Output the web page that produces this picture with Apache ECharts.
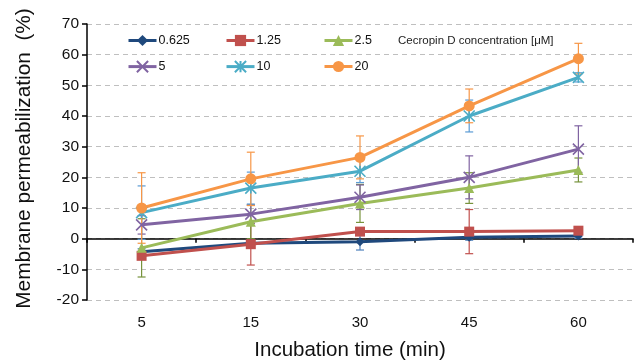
<!DOCTYPE html>
<html>
<head>
<meta charset="utf-8">
<script src="https://cdn.jsdelivr.net/npm/echarts@6/dist/echarts.min.js"></script>
<style>html,body{margin:0;padding:0;background:#fff}#c{width:638px;height:362px}</style>
</head>
<body>
<div id="c"></div>
<script>
const categories = ['5', '15', '30', '45', '60'];
const seriesNames = ['0.625', '1.25', '2.5', '5', '10', '20'];
const v0625 = [-4.3, -1.5, -1.0, 0.5, 0.9];
const e0625 = [1.0, 1.0, 2.7, 1.0, 0.8];
const v125 = [-5.6, -1.8, 2.3, 2.3, 2.6];
const e125 = [1.0, 6.8, 1.0, 7.2, 1.0];
const v25 = [-3.0, 5.5, 11.5, 16.5, 22.4];
const e25 = [9.5, 5.5, 6.2, 5.0, 3.9];
const v5 = [4.5, 8.0, 13.5, 20.0, 29.2];
const e5 = [3.0, 3.0, 4.0, 7.0, 7.6];
const v10 = [8.5, 16.5, 22.0, 40.0, 52.6];
const e10 = [8.7, 5.2, 3.7, 5.2, 1.5];
const v20 = [10.0, 19.5, 26.5, 43.3, 58.7];
const e20 = [11.5, 8.7, 7.0, 5.5, 5.0];
const yTicks = [-20, -10, 0, 10, 20, 30, 40, 50, 60, 70];

const values = [v0625, v125, v25, v5, v10, v20];
const errors = [e0625, e125, e25, e5, e10, e20];
const colors = ['#1F497D', '#C0504D', '#9BBB59', '#8064A2', '#4BACC6', '#F79646'];
const errColors = ['#4F81BD', '#C0504D', '#77933C', '#8064A2', '#5B9BD5', '#F79646'];
const symbols = [
  'diamond', 'rect', 'triangle',
  'path://M0,0L10,10M10,0L0,10',
  'path://M1,0L9,10M9,0L1,10M5,0L5,10',
  'circle'
];
const symbolSizes = [9, 10, 10, 11, 11, 11];
const FONT = '"Liberation Sans", Arial, sans-serif';

const series = [];
values.forEach((vals, i) => {
  const errData = vals.map((v, j) => [j, v - errors[i][j], v + errors[i][j]]);
  series.push({
    type: 'custom',
    name: seriesNames[i] + '_err',
    z: 1,
    silent: true,
    data: errData,
    renderItem: function (params, api) {
      const lo = api.coord([api.value(0), api.value(1)]);
      const hi = api.coord([api.value(0), api.value(2)]);
      const w = 4;
      const st = { stroke: errColors[i], lineWidth: 1.2 };
      return {
        type: 'group',
        children: [
          { type: 'line', shape: { x1: lo[0], y1: lo[1], x2: hi[0], y2: hi[1] }, style: st },
          { type: 'line', shape: { x1: lo[0] - w, y1: lo[1], x2: lo[0] + w, y2: lo[1] }, style: st },
          { type: 'line', shape: { x1: hi[0] - w, y1: hi[1], x2: hi[0] + w, y2: hi[1] }, style: st }
        ]
      };
    }
  });
});
values.forEach((vals, i) => {
  const isPath = i === 3 || i === 4;
  series.push({
    type: 'line',
    name: seriesNames[i],
    z: 3,
    data: vals,
    symbol: symbols[i],
    symbolSize: symbolSizes[i],
    showAllSymbol: true,
    lineStyle: { color: colors[i], width: 3 },
    itemStyle: isPath
      ? { color: 'rgba(0,0,0,0)', borderColor: colors[i], borderWidth: 1.6 }
      : { color: colors[i], borderColor: colors[i], borderWidth: 0 },
    emphasis: { disabled: true },
    animation: false
  });
});

const legendPos = [[127, 34], [225, 34], [323, 34], [127, 60], [225, 60], [323, 60]];
const legends = seriesNames.map((n, i) => ({
  data: [n],
  left: legendPos[i][0],
  top: legendPos[i][1],
  itemWidth: 28,
  itemHeight: 14,
  itemGap: 0,
  padding: 0,
  selectedMode: false,
  lineStyle: { width: 3 },
  textStyle: { fontFamily: FONT, fontSize: 12.5, color: '#111', padding: [0, 0, 0, -3] }
}));

const chart = echarts.init(document.getElementById('c'), null, { renderer: 'canvas' });
chart.setOption({
  animation: false,
  backgroundColor: '#fff',
  color: colors,
  grid: { left: 87, right: 5, top: 24, bottom: 62, containLabel: false, outerBoundsMode: 'none' },
  legend: legends,
  graphic: [{
    type: 'text',
    left: 398,
    top: 35,
    style: { text: 'Cecropin D concentration [\u03bcM]', fontFamily: FONT, fontSize: 11.5, fill: '#222' }
  }],
  xAxis: {
    type: 'category',
    data: categories,
    boundaryGap: true,
    axisLine: { onZero: true, lineStyle: { color: '#000', width: 1.5 } },
    axisTick: { show: true, inside: false, length: 4, alignWithLabel: false, lineStyle: { color: '#000', width: 1.5 } },
    axisLabel: { margin: 15, fontFamily: FONT, fontSize: 15, color: '#111' },
    splitLine: { show: false },
    name: 'Incubation time (min)',
    nameLocation: 'middle',
    nameGap: 40,
    nameTextStyle: { fontFamily: FONT, fontSize: 20.5, color: '#111', padding: [0, 20, 0, 0] }
  },
  yAxis: {
    type: 'value',
    min: yTicks[0],
    max: yTicks[yTicks.length - 1],
    interval: 10,
    axisLine: { show: true, onZero: false, lineStyle: { color: '#000', width: 1.5 } },
    axisTick: { show: true, inside: false, length: 5, lineStyle: { color: '#000', width: 1.5 } },
    axisLabel: { margin: 8, fontFamily: FONT, fontSize: 15.5, color: '#111' },
    splitLine: { show: true, lineStyle: { color: '#BFBFBF', type: [5, 4], width: 1 } },
    name: 'Membrane permeabilization  (%)',
    nameLocation: 'middle',
    nameGap: 52,
    nameTextStyle: { fontFamily: FONT, fontSize: 20.8, color: '#111', padding: [0, 0, 0, 7] }
  },
  series: series
});
</script>
</body>
</html>
